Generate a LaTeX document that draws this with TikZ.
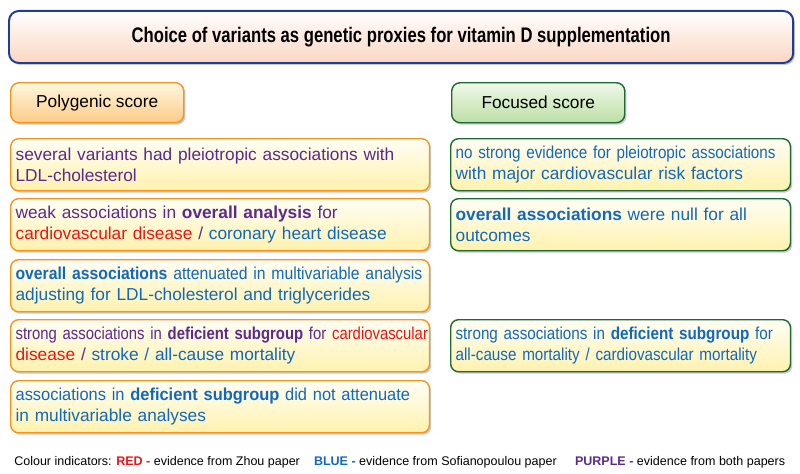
\documentclass[tikz,border=0pt]{standalone}
\usepackage{fontspec}
\setmainfont{Liberation Sans}
\newfontfamily\titlesans[FakeStretch=0.79]{Liberation Sans}
\newfontfamily\narrowsans[FakeStretch=0.88]{Liberation Sans}
\newfontfamily\tightsans[FakeStretch=0.86]{Liberation Sans}
\newfontfamily\midsans[FakeStretch=0.91]{Liberation Sans}
\newfontfamily\slimsans[FakeStretch=0.95]{Liberation Sans}
\usetikzlibrary{shadows}

\definecolor{zhoured}{HTML}{E8141B}
\definecolor{sofiablue}{HTML}{1268BC}
\definecolor{bothpurple}{HTML}{5B2A8E}
\definecolor{polyorange}{HTML}{F7941D}
\definecolor{polytop}{HTML}{FFF7DF}
\definecolor{polybottom}{HTML}{FCCB85}
\definecolor{focusgreen}{HTML}{1E6A32}
\definecolor{focustop}{HTML}{F0F8E9}
\definecolor{focusbottom}{HTML}{BCDFA5}
\definecolor{titlenavy}{HTML}{1F3C99}
\definecolor{titlepeach}{HTML}{FAD6C2}
\definecolor{cardtop}{HTML}{FFFEF4}
\definecolor{cardbottom}{HTML}{FFF2AE}

\newcommand{\zred}[1]{\textcolor{zhoured}{#1}}
\newcommand{\sblue}[1]{\textcolor{sofiablue}{#1}}
\newcommand{\bpurp}[1]{\textcolor{bothpurple}{#1}}
\hfuzz=40pt

\tikzset{
  every node/.style={font=\fontsize{12.3}{15.3}\selectfont},
  softshadow/.style={drop shadow={shadow xshift=1.2pt, shadow yshift=-1.4pt, opacity=0.3, fill=black!70}},
  cardbox/.style={line width=1pt, rounded corners=5.5pt, top color=cardtop, bottom color=cardbottom,
    anchor=north west, align=left, inner xsep=3.5pt, inner ysep=0pt, minimum height=1.3cm, softshadow},
  polycard/.style={cardbox, draw=polyorange, text width=290.8pt},
  focuscard/.style={cardbox, draw=focusgreen, text width=234.6pt},
  headbox/.style={line width=1pt, rounded corners=6pt, anchor=north west, minimum width=4.325cm,
    minimum height=1cm, softshadow},
}

\begin{document}
\begin{tikzpicture}[x=0.025cm, y=-0.025cm]
  \useasboundingbox (0,0) rectangle (800,473);

  % title
  \node[draw=titlenavy, line width=1.4pt, rounded corners=7pt, top color=white, bottom color=titlepeach,
    anchor=north west, minimum width=19.6cm, minimum height=1.3cm, softshadow,
    font=\titlesans\fontsize{15}{18}\selectfont\bfseries, text=black] (title) at (8,10)
    {Choice of variants as genetic proxies for vitamin D supplementation};

  % column headings
  \node[headbox, draw=polyorange, top color=polytop, bottom color=polybottom] (poly) at (10,82) {Polygenic score};
  \node[headbox, draw=focusgreen, top color=focustop, bottom color=focusbottom] (focus) at (451,82) {Focused score};

  % polygenic score column
  \node[polycard] (poly1) at (10,138)
    {\mbox{\bpurp{several variants had pleiotropic associations with}}\\\bpurp{LDL-cholesterol}};
  \node[polycard] (poly2) at (10,198)
    {\mbox{\bpurp{weak associations in \textbf{overall analysis} for}}\\\mbox{\zred{cardiovascular disease} \bpurp{/} \sblue{coronary heart disease}}};
  \node[polycard] (poly3) at (10,259)
    {\mbox{\midsans\sblue{\textbf{overall associations} attenuated in multivariable analysis}}\\\mbox{\sblue{adjusting for LDL-cholesterol and triglycerides}}};
  \node[polycard] (poly4) at (10,319)
    {\mbox{\tightsans\bpurp{strong associations in \textbf{deficient subgroup} for} \zred{cardiovascular}}\\\mbox{\zred{disease} \bpurp{/} \sblue{stroke / all-cause mortality}}};
  \node[polycard] (poly5) at (10,380)
    {\mbox{\slimsans\sblue{associations in \textbf{deficient subgroup} did not attenuate}}\\\sblue{in multivariable analyses}};

  % focused score column
  \node[focuscard] (focus1) at (450,138)
    {\mbox{\narrowsans\sblue{no strong evidence for pleiotropic associations}}\\\mbox{\sblue{with major cardiovascular risk factors}}};
  \node[focuscard] (focus2) at (450,198)
    {\mbox{\sblue{\textbf{overall associations} were null for all}}\\\sblue{outcomes}};
  \node[focuscard] (focus4) at (450,319)
    {\mbox{\narrowsans\sblue{strong associations in \textbf{deficient subgroup} for}}\\\mbox{\narrowsans\sblue{all-cause mortality / cardiovascular mortality}}};

  % colour key
  \node[anchor=base west, inner sep=0pt, font=\fontsize{8.9}{11}\selectfont] (legend) at (14,465)
    {Colour indicators: \zred{\textbf{RED -}} evidence from Zhou paper\hspace{10pt}\sblue{\textbf{BLUE -}} evidence from Sofianopoulou paper\hspace{13pt}\bpurp{\textbf{PURPLE -}} evidence from both papers};
\end{tikzpicture}
\end{document}
